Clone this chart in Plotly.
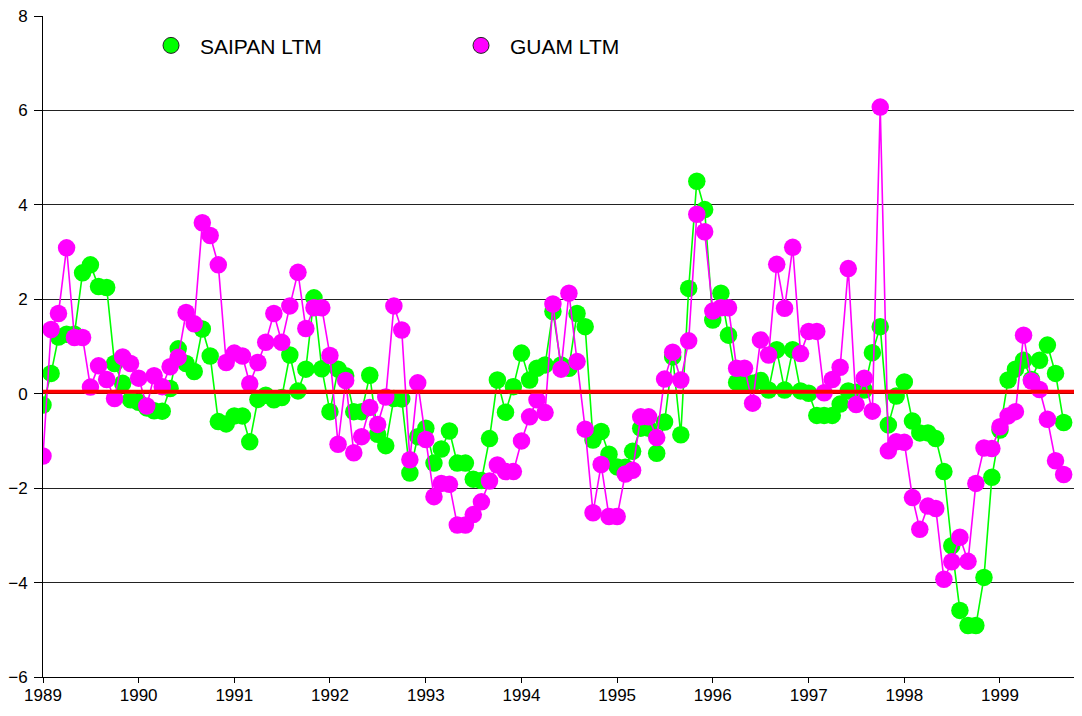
import pandas as pd
import plotly.graph_objects as go

# Monthly values, Jan 1989 .. Sep 1999
start_month = "1989-01-01"

saipan_ltm = [
    -0.24, 0.43, 1.20, 1.26, 1.26, 2.56, 2.73, 2.27, 2.25, 0.64, 0.22, -0.13,
    -0.18, -0.30, -0.36, -0.37, 0.11, 0.95, 0.64, 0.47, 1.37, 0.80, -0.59, -0.64,
    -0.47, -0.47, -1.02, -0.12, -0.03, -0.13, -0.08, 0.82, 0.06, 0.52, 2.03, 0.53,
    -0.38, 0.52, 0.38, -0.38, -0.38, 0.39, -0.86, -1.10, -0.10, -0.11, -1.68, -0.91,
    -0.73, -1.47, -1.17, -0.79, -1.47, -1.47, -1.81, -1.84, -0.95, 0.29, -0.39, 0.15,
    0.86, 0.29, 0.54, 0.61, 1.74, 0.61, 0.54, 1.70, 1.42, -0.98, -0.80, -1.28,
    -1.55, -1.56, -1.22, -0.73, -0.73, -1.26, -0.60, 0.78, -0.87, 2.23, 4.50, 3.90,
    1.56, 2.13, 1.24, 0.24, 0.24, 0.22, 0.28, 0.08, 0.93, 0.08, 0.93, 0.06,
    0.01, -0.46, -0.46, -0.46, -0.22, 0.06, 0.03, 0.08, 0.87, 1.42, -0.66, -0.05,
    0.25, -0.58, -0.83, -0.83, -0.95, -1.65, -3.22, -4.59, -4.91, -4.91, -3.89, -1.77,
    -0.77, 0.29, 0.52, 0.71, 0.30, 0.71, 1.03, 0.43, -0.61,
]

guam_ltm = [
    -1.32, 1.36, 1.70, 3.09, 1.19, 1.19, 0.14, 0.59, 0.30, -0.10, 0.78, 0.64,
    0.33, -0.26, 0.38, 0.15, 0.57, 0.77, 1.72, 1.48, 3.62, 3.35, 2.73, 0.66,
    0.86, 0.80, 0.21, 0.66, 1.09, 1.70, 1.09, 1.86, 2.57, 1.38, 1.82, 1.82,
    0.81, -1.07, 0.28, -1.25, -0.91, -0.29, -0.65, -0.07, 1.86, 1.35, -1.40, 0.23,
    -0.97, -2.18, -1.90, -1.92, -2.78, -2.78, -2.56, -2.29, -1.85, -1.51, -1.65, -1.65,
    -1.00, -0.49, -0.13, -0.40, 1.90, 0.52, 2.13, 0.68, -0.75, -2.52, -1.50, -2.60,
    -2.60, -1.70, -1.62, -0.49, -0.49, -0.93, 0.31, 0.88, 0.29, 1.12, 3.80, 3.43,
    1.75, 1.82, 1.82, 0.54, 0.54, -0.20, 1.14, 0.82, 2.74, 1.81, 3.10, 0.85,
    1.32, 1.32, 0.02, 0.30, 0.56, 2.65, -0.23, 0.33, -0.37, 6.07, -1.21, -1.02,
    -1.03, -2.20, -2.87, -2.38, -2.43, -3.93, -3.56, -3.04, -3.55, -1.90, -1.15, -1.16,
    -0.70, -0.47, -0.38, 1.24, 0.27, 0.09, -0.54, -1.42, -1.71,
]

reference_level = 0.04
year_ticks = [str(y) for y in range(1989, 2000)]
series_names = ["SAIPAN LTM", "GUAM LTM"]

GREEN = "#00ff00"
MAGENTA = "#ff00ff"

dates = pd.date_range(start_month, periods=len(saipan_ltm), freq="MS")

fig = go.Figure()

for vals, col in ((saipan_ltm, GREEN), (guam_ltm, MAGENTA)):
    fig.add_trace(go.Scatter(
        x=dates, y=vals, mode="lines+markers",
        line=dict(color=col, width=1.6),
        marker=dict(color=col, size=17.5, line=dict(width=0)),
        showlegend=False, hoverinfo="x+y",
    ))

# legend-only entries (outlined markers like the original key)
for name, col in zip(series_names, (GREEN, MAGENTA)):
    fig.add_trace(go.Scatter(
        x=[None], y=[None], mode="markers", name=name,
        marker=dict(color=col, size=16, line=dict(color="#222222", width=1)),
    ))

fig.add_shape(type="line", xref="paper", yref="y", x0=0, x1=1,
              y0=reference_level, y1=reference_level,
              line=dict(color="#ff0000", width=4), layer="above")

# page body has an 8px margin: size figure so plot area lands at 43..1082 x 16..677
fig.update_layout(
    width=1074, height=700,
    margin=dict(l=35, r=0, t=8, b=31, autoexpand=False),
    paper_bgcolor="white", plot_bgcolor="white",
    font=dict(family="Liberation Sans, Arial, sans-serif", size=17, color="black"),
    legend=dict(
        orientation="h", x=0.0953, xanchor="left", y=0.955, yanchor="middle",
        entrywidth=247, entrywidthmode="pixels", itemwidth=48,
        font=dict(size=21), bgcolor="rgba(0,0,0,0)", itemsizing="trace",
    ),
    xaxis=dict(
        type="date",
        range=["1989-01-01", "1999-11-10"],
        tickvals=[f"{y}-01-01" for y in year_ticks],
        ticktext=year_ticks,
        ticks="outside", ticklen=5, tickcolor="black",
        ticklabelstandoff=-2, ticklabeloverflow="allow", automargin=False,
        showgrid=False, showline=True, linecolor="black", linewidth=1,
        zeroline=False, tickfont=dict(size=17),
    ),
    yaxis=dict(
        range=[-6, 8], dtick=2, tickvals=list(range(-6, 9, 2)),
        ticks="outside", ticklen=8, tickcolor="black",
        ticklabeloverflow="allow", ticklabelstandoff=3, automargin=False,
        showgrid=True, gridcolor="#222222", gridwidth=1,
        zeroline=True, zerolinecolor="black", zerolinewidth=1,
        showline=True, linecolor="black", linewidth=1,
        tickfont=dict(size=17),
    ),
)

fig.write_html("out.html")
